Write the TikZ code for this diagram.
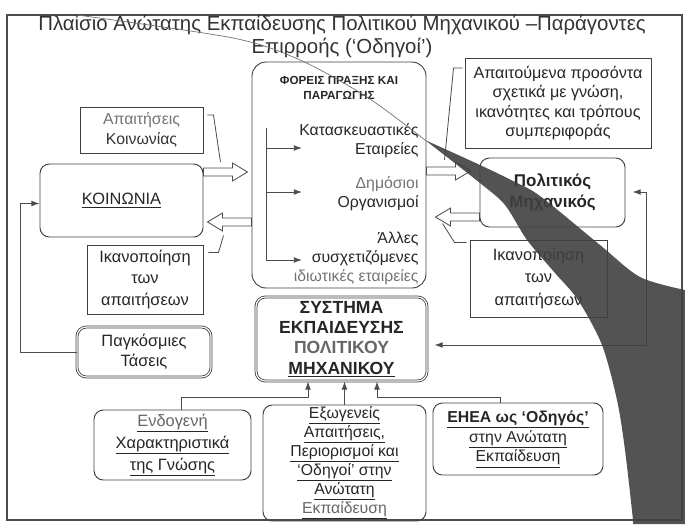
\documentclass[tikz,border=0pt]{standalone}
\usepackage{fontspec}
\setmainfont{Liberation Sans}
\usetikzlibrary{arrows.meta}

\newcommand{\bodyfont}{\fontsize{13.5}{16.5}\selectfont}
\newcommand{\headfont}{\fontsize{17.4}{19.5}\selectfont}
\newcommand{\smallbold}{\fontsize{10}{12.8}\selectfont\bfseries}

\tikzset{every path/.style={line width=0.8pt}}
\tikzset{
  box/.style={draw=black!75, line width=0.8pt, align=center, inner sep=0pt, text=black!85, font=\bodyfont},
  rbox/.style={box, rounded corners=8pt},
  dbox/.style={rbox, double=white, double distance=1pt, line width=0.7pt},
  inner/.style={font=\bodyfont, align=right, anchor=east, inner sep=0pt, text=black!85},
  link/.style={draw=black!70, line width=0.8pt},
  arr/.style={link, -{Latex[length=7pt,width=5pt]}},
  callout/.style={draw=black!70, line width=0.7pt},
  fatarrow/.pic={\draw[black!70, fill=white, line width=0.7pt] (0,-4) -- (29,-4) -- (29,-9) -- (44,0) -- (29,9) -- (29,4) -- (0,4) -- cycle;}
}

\begin{document}
\begin{tikzpicture}[x=0.03cm,y=-0.03cm]
\useasboundingbox (0,0) rectangle (685,524);
\draw[black!70, line width=1.2pt] (7,15) rectangle (682,520);

\node[text=black!80, font=\headfont, align=center] (title) at (342,36.5) {Πλαίσιο Ανώτατης Εκπαίδευσης Πολιτικού Μηχανικού –Παράγοντες\\Επιρροής (‘Οδηγοί’)};

% society side
\node[box, text=black!55, minimum width=3.69cm, minimum height=1.38cm] (socreq) at (141.5,130) {Απαιτήσεις\\\textcolor{black!80}{Κοινωνίας}};
\node[rbox, font=\fontsize{14}{16}\selectfont, minimum width=4.89cm, minimum height=2.19cm] (soc) at (121.5,200.5) {\underline{ΚΟΙΝΩΝΙΑ}};
\node[box, font=\fontsize{14}{18}\selectfont, minimum width=3.48cm, minimum height=2.07cm] (socsat) at (145,279.5) {Ικανοποίηση\\των\\απαιτήσεων};
\node[dbox, font=\fontsize{14}{17}\selectfont, minimum width=4.02cm, minimum height=1.5cm] (glob) at (144,352) {Παγκόσμιες\\Τάσεις};

% actors
\node[box, rounded corners=12pt, minimum width=5.22cm, minimum height=6.78cm] (actors) at (339,175) {};
\node[font=\smallbold, align=center, text=black!85] (acttitle) at (339,87.5) {ΦΟΡΕΙΣ ΠΡΑΞΗΣ ΚΑΙ\\ΠΑΡΑΓΩΓΗΣ};
\node[inner] (firms) at (419,141) {Κατασκευαστικές\\Εταιρείες};
\node[inner] (pub) at (419,194) {\textcolor{black!55}{Δημόσιοι}\\Οργανισμοί};
\node[inner] (priv) at (419,258.5) {Άλλες\\συσχετιζόμενες\\\textcolor{black!55}{ιδιωτικές εταιρείες}};
\coordinate (br) at (266,128);
\draw[link] (br) -- ++(0,132);
\draw[arr] (br |- 0,148) -- ++(36,0);
\draw[arr] (br |- 0,192) -- ++(36,0);
\draw[arr] (br |- 0,260) -- ++(36,0);

\node[dbox, font=\fontsize{15}{17.4}\selectfont\bfseries, minimum width=5.13cm, minimum height=2.52cm] (edu) at (341.5,339) {ΣΥΣΤΗΜΑ\\ΕΚΠΑΙΔΕΥΣΗΣ\\\textcolor{black!60}{ΠΟΛΙΤΙΚΟΥ}\\\underline{ΜΗΧΑΝΙΚΟΥ}};

% engineer side
\node[box, font=\fontsize{13.8}{16.5}\selectfont, minimum width=5.58cm, minimum height=2.7cm] (quals) at (558,103) {Απαιτούμενα προσόντα\\σχετικά με γνώση,\\ικανότητες και τρόπους\\συμπεριφοράς};
\node[rbox, font=\fontsize{14.5}{18.5}\selectfont\bfseries, minimum width=4.35cm, minimum height=2.07cm] (civ) at (552.5,192.5) {Πολιτικός\\Μηχανικός};
\node[box, font=\fontsize{14}{19.5}\selectfont, minimum width=4.11cm, minimum height=2.31cm] (civsat) at (538.5,278.5) {Ικανοποίηση\\των\\απαιτήσεων};

% drivers
\node[rbox, font=\fontsize{14}{18.7}\selectfont, minimum width=4.71cm, minimum height=2.1cm] (endo) at (172.5,445) {\underline{\textcolor{black!60}{Ενδογενή}}\\\underline{Χαρακτηριστικά}\\\underline{της Γνώσης}};
\node[rbox, font=\fontsize{13.5}{16.2}\selectfont, minimum width=4.89cm, minimum height=3.48cm] (exo) at (344.5,463) {\underline{Εξωγενείς}\\\underline{Απαιτήσεις,}\\\underline{Περιορισμοί και}\\\underline{‘Οδηγοί’ στην}\\\underline{Ανώτατη}\\\underline{\textcolor{black!60}{Εκπαίδευση}}};
\node[rbox, font=\fontsize{13.5}{17}\selectfont, minimum width=5.1cm, minimum height=2.16cm] (ehea) at (518,439) {\textbf{\underline{ΕΗΕΑ ως ‘Οδηγός’}}\\\underline{στην Ανώτατη}\\\underline{Εκπαίδευση}};

% connectors
\draw[arr] (glob.west) -- ++(-56,0) |- ([shift={(0,3)}]soc.west);
\pic at (soc.east |- 0,172) {fatarrow};
\pic[xscale=-1] at (actors.west |- 0,222) {fatarrow};
\pic at (actors.east |- 0,171) {fatarrow};
\pic[xscale=-1] at (civ.west |- 0,217) {fatarrow};

\draw[callout] ([shift={(4,-15)}]socreq.east) -- ++(6,0) -- ++(7,47);
\draw[callout] ([shift={(5,-27)}]socsat.east) -- ++(10,0) -- ++(5,-17);
\draw[callout] ([shift={(-2,-35)}]quals.west) -- ++(-9,0) -- ++(-9,92);
\draw[callout] ([shift={(-3,-36)}]civsat.west) -- ++(-12,0) -- ++(-12,-19);

\draw[link, {Latex[length=7pt,width=5pt]}-{Latex[length=7pt,width=5pt]}, shorten <=6pt, shorten >=6pt] (edu.east |- 0,345) -| (646,192) -- (civ.east |- 0,192);

\draw[arr] ([shift={(9,0)}]endo.north) |- (308,397) -- (308,0 |- edu.south);
\draw[arr] (exo.north) -- (exo.north |- edu.south);
\draw[arr] (ehea.north -| 500,0) |- (377,397) -- (377,0 |- edu.south);

% page curl
\draw[black!55, line width=0.6pt] plot[smooth] coordinates {(77,15) (233,38) (300,60) (367,97) (425,140)};
\fill[black!75, fill opacity=0.9] plot[smooth] coordinates {(425,140) (480,165) (513,181) (540,196) (600,245) (640,277) (685,290)} -- (685,524) -- (633,524) -- plot[smooth] coordinates {(633,520) (625,450) (617,400) (602,345) (578,300) (555,273) (527,240) (505,205) (480,183) (425,140)} -- cycle;

\end{tikzpicture}
\end{document}
